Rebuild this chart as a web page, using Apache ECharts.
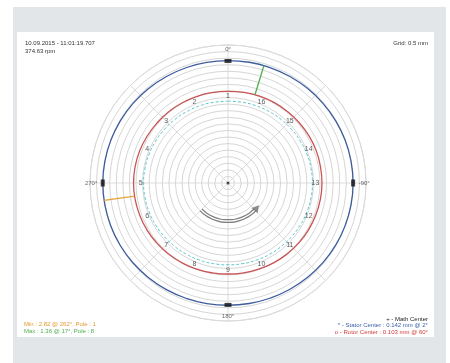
<!DOCTYPE html>
<html>
<head>
<meta charset="utf-8">
<script src="https://cdn.jsdelivr.net/npm/echarts@6/dist/echarts.min.js"></script>
<style>
html, body { margin: 0; padding: 0; background: #fff; }
#frame { position: absolute; left: 13px; top: 7px; width: 433px; height: 356px; background: #e2e6e9; }
#main { position: absolute; left: 17px; top: 32px; width: 417px; height: 305px; background: #fff; }
</style>
</head>
<body>
<div id="frame"></div>
<div id="main"></div>
<script>
// angles (deg, clockwise from top) the measured profiles are sampled at
var angles = [0, 10, 20, 30, 40, 50, 60, 70, 80, 90, 100, 110, 120, 130, 140, 150, 160, 170, 180,
	190, 200, 210, 220, 230, 240, 250, 260, 270, 280, 290, 300, 310, 320, 330, 340, 350, 360];
// stator profile (blue), grid units
var statorR = [18.62, 18.66, 18.70, 18.74, 18.80, 18.86, 18.92, 18.98, 19.02, 19.04, 19.02, 18.97, 18.92,
	18.85, 18.78, 18.72, 18.66, 18.62, 18.60, 18.63, 18.67, 18.73, 18.80, 18.88, 18.95, 19.00, 19.04,
	19.06, 19.03, 18.98, 18.92, 18.85, 18.78, 18.72, 18.67, 18.64, 18.62];
// rotor profile (red)
var rotorR = [13.95, 14.00, 14.08, 14.12, 14.15, 14.20, 14.25, 14.30, 14.28, 14.30, 14.27, 14.22, 14.18,
	14.12, 14.05, 14.00, 13.92, 13.88, 13.85, 13.88, 13.95, 14.02, 14.10, 14.18, 14.25, 14.30, 14.35,
	14.38, 14.35, 14.30, 14.22, 14.15, 14.10, 14.05, 14.00, 13.96, 13.95];
// reference circle (cyan dashed)
var refR = [12.45, 12.47, 12.50, 12.55, 12.60, 12.66, 12.72, 12.78, 12.82, 12.84, 12.82, 12.78, 12.72,
	12.66, 12.60, 12.55, 12.50, 12.47, 12.45, 12.47, 12.50, 12.55, 12.60, 12.66, 12.72, 12.78, 12.82,
	12.84, 12.82, 12.78, 12.72, 12.66, 12.60, 12.55, 12.50, 12.47, 12.45];

var poleNames = ['1', '2', '3', '4', '5', '6', '7', '8', '9', '10', '11', '12', '13', '14', '15', '16'];
var poleAngles = [0, 337.5, 315, 292.5, 270, 247.5, 225, 202.5, 180, 157.5, 135, 112.5, 90, 67.5, 45, 22.5];
var poleR = 13.3;

var dirLabels = ['0°', '-90°', '180°', '270°'];
var dirAngles = [0, 90, 180, 270];
var dirPos = ['top', 'right', 'bottom', 'left'];

var maxLine = [[14.05, 17], [18.68, 17]];   // Max : 1.36 @ 17°
var minLine = [[14.36, 262], [19.04, 262]]; // Min : 2.82 @ 262°

// rotation arrow arc
var arcAngles = [225, 215, 205, 195, 185, 175, 165, 155, 145, 135];
var arcInner = [5.6, 5.6, 5.6, 5.6, 5.6, 5.6, 5.6, 5.6, 5.6, 5.6];
var arcOuter = [6.0, 6.0, 6.0, 6.0, 6.0, 6.0, 6.0, 6.0, 6.0, 6.0];

function zip(r, a) {
	var out = [];
	for (var i = 0; i < a.length; i++) out.push([r[i], a[i]]);
	return out;
}

var chart = echarts.init(document.getElementById('main'));

var poleData = [];
for (var i = 0; i < poleNames.length; i++) {
	poleData.push({ value: [poleR, poleAngles[i]], name: poleNames[i] });
}
var dirData = [];
var markData = [];
for (var j = 0; j < dirLabels.length; j++) {
	dirData.push({ value: [19.5, dirAngles[j]], name: dirLabels[j], label: { position: dirPos[j] } });
	markData.push({ value: [j % 2 ? statorR[dirAngles[j] / 10] : statorR[dirAngles[j] / 10] - 0.05, dirAngles[j]],
		symbolSize: j % 2 ? [4, 7] : [7, 4] });
}

var font = 'Liberation Sans';

option = {
	backgroundColor: '#fff',
	animation: false,
	title: [{
		text: '10.09.2015 - 11:01:19.707\n374.63 rpm',
		left: 3, top: 2,
		textStyle: { fontSize: 6, fontWeight: 'normal', color: '#333', lineHeight: 8, fontFamily: font }
	}, {
		text: 'Grid: 0.5 mm',
		right: 1, top: 3,
		textStyle: { fontSize: 6, fontWeight: 'normal', color: '#333', fontFamily: font }
	}, {
		text: 'Min : 2.82 @ 262°, Pole : 1',
		left: 2, top: 284,
		textStyle: { fontSize: 6, fontWeight: 'normal', color: '#e39b2e', fontFamily: font }
	}, {
		text: 'Max : 1.36 @ 17°, Pole : 8',
		left: 2, top: 291,
		textStyle: { fontSize: 6, fontWeight: 'normal', color: '#4cae4c', fontFamily: font }
	}, {
		text: '+ - Math Center',
		right: 1, top: 279,
		textStyle: { fontSize: 6, fontWeight: 'normal', color: '#222', fontFamily: font }
	}, {
		text: '* - Stator Center : 0.142 mm @ 2°',
		right: 1, top: 285,
		textStyle: { fontSize: 6, fontWeight: 'normal', color: '#3a5fa8', fontFamily: font }
	}, {
		text: 'o - Rotor Center : 0.103 mm @ 60°',
		right: 1, top: 292,
		textStyle: { fontSize: 6, fontWeight: 'normal', color: '#d03a3a', fontFamily: font }
	}],
	polar: { center: [211, 151], radius: 138 },
	angleAxis: {
		type: 'value', min: 0, max: 360, interval: 45,
		startAngle: 90, clockwise: true,
		axisLine: { show: true, lineStyle: { color: '#dcdcdc', width: 1 } },
		axisTick: { show: false },
		axisLabel: { show: false },
		splitLine: { show: true, lineStyle: { color: '#d4d4d4', width: 0.8 } }
	},
	radiusAxis: {
		type: 'value', min: 0, max: 21, interval: 1,
		axisLine: { show: false },
		axisTick: { show: false },
		axisLabel: { show: false },
		splitLine: { show: true, lineStyle: { color: '#d6d6d6', width: 1 } }
	},
	series: [{
		name: 'Stator', type: 'line', coordinateSystem: 'polar',
		data: zip(statorR, angles), showSymbol: false, smooth: true,
		lineStyle: { color: '#3d5c9e', width: 1.3 }, z: 3
	}, {
		name: 'Rotor', type: 'line', coordinateSystem: 'polar',
		data: zip(rotorR, angles), showSymbol: false, smooth: true,
		lineStyle: { color: '#c95454', width: 1.3 }, z: 3
	}, {
		name: 'Ref', type: 'line', coordinateSystem: 'polar',
		data: zip(refR, angles), showSymbol: false, smooth: true,
		lineStyle: { color: '#5cc4c8', width: 1, type: [3, 2] }, z: 3
	}, {
		name: 'Max', type: 'line', coordinateSystem: 'polar',
		data: maxLine, showSymbol: false,
		lineStyle: { color: '#4cae4c', width: 1.3 }, z: 4
	}, {
		name: 'Min', type: 'line', coordinateSystem: 'polar',
		data: minLine, showSymbol: false,
		lineStyle: { color: '#e3a33a', width: 1.3 }, z: 4
	}, {
		name: 'ArcIn', type: 'line', coordinateSystem: 'polar',
		data: zip(arcInner, arcAngles), showSymbol: false, smooth: true,
		lineStyle: { color: '#808080', width: 1.2 }, z: 4
	}, {
		name: 'ArcOut', type: 'line', coordinateSystem: 'polar',
		data: zip(arcOuter, arcAngles), showSymbol: false, smooth: true,
		lineStyle: { color: '#808080', width: 1.2 }, z: 4
	}, {
		name: 'ArrowHead', type: 'scatter', coordinateSystem: 'polar',
		data: [[5.8, 131]], symbol: 'triangle', symbolSize: [8, 7], symbolRotate: -40,
		itemStyle: { color: '#707070' }, z: 5
	}, {
		name: 'Markers', type: 'scatter', coordinateSystem: 'polar',
		data: markData, symbol: 'rect',
		itemStyle: { color: '#111' }, z: 5
	}, {
		name: 'Center', type: 'scatter', coordinateSystem: 'polar',
		data: [[0, 0]], symbolSize: 3,
		itemStyle: { color: '#222' }, z: 5
	}, {
		name: 'Poles', type: 'scatter', coordinateSystem: 'polar',
		data: poleData, symbolSize: 1,
		itemStyle: { color: 'rgba(0,0,0,0)' },
		label: { show: true, position: 'inside', formatter: '{b}', fontSize: 7, color: '#333', fontFamily: font },
		z: 6
	}, {
		name: 'Dirs', type: 'scatter', coordinateSystem: 'polar',
		data: dirData, symbolSize: 1,
		itemStyle: { color: 'rgba(0,0,0,0)' },
		label: { show: true, formatter: '{b}', fontSize: 6, distance: 2, color: '#444', fontFamily: font },
		z: 6
	}]
};

chart.setOption(option);
</script>
</body>
</html>
